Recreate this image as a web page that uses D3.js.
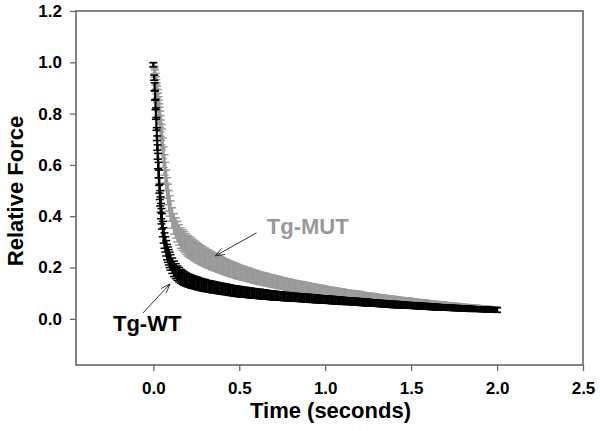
<!DOCTYPE html>
<html>
<head>
<meta charset="utf-8">
<script src="https://cdnjs.cloudflare.com/ajax/libs/d3/7.8.5/d3.min.js"></script>
<style>
  body { margin: 0; background: #fff; }
  svg text { font-family: Arial, "Liberation Sans", sans-serif; font-weight: bold; }
</style>
</head>
<body>
<svg class="chart"></svg>
<script>
const width = 600;
const height = 431;

// sample times (s)
const time = [
  0, 0.005, 0.0075, 0.01, 0.0125, 0.015, 0.0175, 0.02, 0.0225, 0.025,
  0.0275, 0.03, 0.0325, 0.035, 0.0375, 0.04, 0.0425, 0.045, 0.0475, 0.05,
  0.055, 0.06, 0.065, 0.07, 0.075, 0.08, 0.085, 0.09, 0.095, 0.1,
  0.11, 0.12, 0.13, 0.14, 0.15, 0.16, 0.17, 0.18, 0.19, 0.20,
  0.21, 0.22, 0.23, 0.24, 0.25, 0.26, 0.27, 0.28, 0.29, 0.30,
  0.31, 0.32, 0.33, 0.34, 0.35, 0.36, 0.37, 0.38, 0.39, 0.40,
  0.41, 0.42, 0.43, 0.44, 0.45, 0.46, 0.47, 0.48, 0.49, 0.50,
  0.51, 0.52, 0.53, 0.54, 0.55, 0.56, 0.57, 0.58, 0.59, 0.60,
  0.61, 0.62, 0.63, 0.64, 0.65, 0.66, 0.67, 0.68, 0.69, 0.70,
  0.71, 0.72, 0.73, 0.74, 0.75, 0.76, 0.77, 0.78, 0.79, 0.80,
  0.81, 0.82, 0.83, 0.84, 0.85, 0.86, 0.87, 0.88, 0.89, 0.90,
  0.91, 0.92, 0.93, 0.94, 0.95, 0.96, 0.97, 0.98, 0.99, 1.00,
  1.01, 1.02, 1.03, 1.04, 1.05, 1.06, 1.07, 1.08, 1.09, 1.10,
  1.11, 1.12, 1.13, 1.14, 1.15, 1.16, 1.17, 1.18, 1.19, 1.20,
  1.21, 1.22, 1.23, 1.24, 1.25, 1.26, 1.27, 1.28, 1.29, 1.30,
  1.31, 1.32, 1.33, 1.34, 1.35, 1.36, 1.37, 1.38, 1.39, 1.40,
  1.41, 1.42, 1.43, 1.44, 1.45, 1.46, 1.47, 1.48, 1.49, 1.50,
  1.51, 1.52, 1.53, 1.54, 1.55, 1.56, 1.57, 1.58, 1.59, 1.60,
  1.61, 1.62, 1.63, 1.64, 1.65, 1.66, 1.67, 1.68, 1.69, 1.70,
  1.71, 1.72, 1.73, 1.74, 1.75, 1.76, 1.77, 1.78, 1.79, 1.80,
  1.81, 1.82, 1.83, 1.84, 1.85, 1.86, 1.87, 1.88, 1.89, 1.90,
  1.91, 1.92, 1.93, 1.94, 1.95, 1.96, 1.97, 1.98, 1.99, 2.00
];

// Tg-WT relative force (mean)
const wtMean = [
  0.99, 0.94, 0.905, 0.87, 0.835, 0.80, 0.76, 0.72, 0.685, 0.65,
  0.615, 0.58, 0.55, 0.52, 0.495, 0.47, 0.445, 0.42, 0.40, 0.38,
  0.35, 0.325, 0.305, 0.29, 0.275, 0.26, 0.25, 0.24, 0.23, 0.22,
  0.207, 0.195, 0.186, 0.178, 0.172, 0.166, 0.161, 0.157, 0.153, 0.150,
  0.148, 0.145, 0.143, 0.141, 0.139, 0.137, 0.135, 0.133, 0.131, 0.130,
  0.128, 0.127, 0.126, 0.124, 0.123, 0.122, 0.121, 0.119, 0.118, 0.117,
  0.116, 0.115, 0.114, 0.113, 0.111, 0.110, 0.109, 0.108, 0.107, 0.106,
  0.105, 0.104, 0.104, 0.103, 0.102, 0.101, 0.100, 0.100, 0.099, 0.098,
  0.097, 0.097, 0.096, 0.095, 0.095, 0.094, 0.093, 0.092, 0.092, 0.091,
  0.090, 0.090, 0.089, 0.089, 0.088, 0.087, 0.087, 0.086, 0.086, 0.085,
  0.085, 0.084, 0.084, 0.083, 0.083, 0.082, 0.082, 0.081, 0.081, 0.080,
  0.080, 0.079, 0.079, 0.078, 0.078, 0.077, 0.077, 0.076, 0.076, 0.075,
  0.075, 0.074, 0.074, 0.073, 0.073, 0.072, 0.072, 0.071, 0.071, 0.070,
  0.070, 0.069, 0.069, 0.069, 0.068, 0.068, 0.067, 0.067, 0.066, 0.066,
  0.065, 0.065, 0.064, 0.064, 0.063, 0.063, 0.062, 0.062, 0.061, 0.061,
  0.060, 0.060, 0.059, 0.059, 0.058, 0.058, 0.057, 0.057, 0.056, 0.056,
  0.056, 0.055, 0.055, 0.054, 0.054, 0.054, 0.053, 0.053, 0.052, 0.052,
  0.052, 0.051, 0.051, 0.050, 0.050, 0.050, 0.049, 0.049, 0.048, 0.048,
  0.048, 0.047, 0.047, 0.046, 0.046, 0.046, 0.045, 0.045, 0.044, 0.044,
  0.044, 0.043, 0.043, 0.043, 0.042, 0.042, 0.042, 0.041, 0.041, 0.041,
  0.040, 0.040, 0.040, 0.039, 0.039, 0.039, 0.038, 0.038, 0.038, 0.038,
  0.037, 0.037, 0.037, 0.036, 0.036, 0.036, 0.035, 0.035, 0.035, 0.034
];
// Tg-WT error
const wtErr = [
  0.008, 0.01, 0.015, 0.018, 0.02, 0.022, 0.025, 0.025, 0.028, 0.028,
  0.03, 0.03, 0.03, 0.03, 0.03, 0.03, 0.03, 0.03, 0.03, 0.03,
  0.03, 0.03, 0.03, 0.03, 0.03, 0.03, 0.03, 0.03, 0.03, 0.03,
  0.03, 0.03, 0.029, 0.028, 0.028, 0.027, 0.027, 0.026, 0.026, 0.025,
  0.025, 0.025, 0.024, 0.024, 0.024, 0.024, 0.023, 0.023, 0.023, 0.023,
  0.022, 0.022, 0.022, 0.022, 0.022, 0.021, 0.021, 0.021, 0.021, 0.021,
  0.021, 0.021, 0.020, 0.020, 0.020, 0.020, 0.020, 0.020, 0.020, 0.020,
  0.020, 0.019, 0.019, 0.019, 0.019, 0.019, 0.019, 0.018, 0.018, 0.018,
  0.018, 0.018, 0.018, 0.018, 0.017, 0.017, 0.017, 0.017, 0.017, 0.017,
  0.017, 0.016, 0.016, 0.016, 0.016, 0.016, 0.016, 0.016, 0.016, 0.016,
  0.015, 0.015, 0.015, 0.015, 0.015, 0.015, 0.015, 0.015, 0.015, 0.015,
  0.015, 0.015, 0.015, 0.015, 0.015, 0.014, 0.014, 0.014, 0.014, 0.014,
  0.014, 0.014, 0.014, 0.014, 0.014, 0.014, 0.014, 0.014, 0.014, 0.014,
  0.013, 0.013, 0.013, 0.013, 0.013, 0.013, 0.013, 0.013, 0.013, 0.013,
  0.013, 0.013, 0.013, 0.013, 0.013, 0.012, 0.012, 0.012, 0.012, 0.012,
  0.012, 0.012, 0.012, 0.012, 0.012, 0.012, 0.012, 0.012, 0.012, 0.012,
  0.012, 0.012, 0.012, 0.012, 0.012, 0.011, 0.011, 0.011, 0.011, 0.011,
  0.011, 0.011, 0.011, 0.011, 0.011, 0.011, 0.011, 0.011, 0.011, 0.011,
  0.011, 0.011, 0.011, 0.011, 0.011, 0.010, 0.010, 0.010, 0.010, 0.010,
  0.010, 0.010, 0.010, 0.010, 0.010, 0.010, 0.010, 0.010, 0.010, 0.010,
  0.010, 0.010, 0.010, 0.010, 0.010, 0.009, 0.009, 0.009, 0.009, 0.009,
  0.009, 0.009, 0.009, 0.009, 0.009, 0.009, 0.009, 0.009, 0.009, 0.009
];

// Tg-MUT relative force (mean)
const mutMean = [
  0.99, 0.97, 0.96, 0.95, 0.935, 0.92, 0.905, 0.89, 0.875, 0.86,
  0.845, 0.83, 0.815, 0.80, 0.785, 0.77, 0.752, 0.735, 0.718, 0.70,
  0.665, 0.63, 0.60, 0.57, 0.54, 0.51, 0.485, 0.46, 0.44, 0.42,
  0.393, 0.37, 0.354, 0.34, 0.327, 0.315, 0.307, 0.30, 0.292, 0.285,
  0.280, 0.275, 0.270, 0.265, 0.261, 0.256, 0.252, 0.248, 0.244, 0.240,
  0.236, 0.233, 0.230, 0.226, 0.223, 0.220, 0.217, 0.214, 0.211, 0.208,
  0.205, 0.202, 0.199, 0.197, 0.194, 0.192, 0.189, 0.187, 0.184, 0.182,
  0.180, 0.178, 0.176, 0.174, 0.172, 0.170, 0.168, 0.166, 0.164, 0.162,
  0.160, 0.158, 0.157, 0.155, 0.154, 0.152, 0.150, 0.149, 0.147, 0.146,
  0.144, 0.143, 0.141, 0.140, 0.138, 0.137, 0.135, 0.134, 0.132, 0.131,
  0.130, 0.129, 0.127, 0.126, 0.125, 0.124, 0.123, 0.121, 0.120, 0.119,
  0.118, 0.117, 0.116, 0.114, 0.113, 0.112, 0.111, 0.110, 0.108, 0.107,
  0.106, 0.105, 0.104, 0.103, 0.102, 0.101, 0.100, 0.099, 0.098, 0.097,
  0.096, 0.095, 0.094, 0.093, 0.092, 0.092, 0.091, 0.090, 0.089, 0.088,
  0.087, 0.086, 0.085, 0.084, 0.083, 0.083, 0.082, 0.081, 0.080, 0.079,
  0.078, 0.077, 0.077, 0.076, 0.075, 0.074, 0.074, 0.073, 0.072, 0.071,
  0.070, 0.070, 0.069, 0.068, 0.068, 0.067, 0.066, 0.066, 0.065, 0.064,
  0.063, 0.063, 0.062, 0.061, 0.061, 0.060, 0.059, 0.059, 0.058, 0.057,
  0.057, 0.056, 0.056, 0.055, 0.054, 0.054, 0.053, 0.053, 0.052, 0.051,
  0.051, 0.050, 0.050, 0.049, 0.048, 0.048, 0.047, 0.047, 0.046, 0.045,
  0.045, 0.045, 0.044, 0.044, 0.043, 0.043, 0.042, 0.042, 0.041, 0.040,
  0.040, 0.040, 0.039, 0.039, 0.038, 0.038, 0.037, 0.037, 0.036, 0.036
];
// Tg-MUT error
const mutErr = [
  0.01, 0.015, 0.018, 0.02, 0.022, 0.025, 0.028, 0.03, 0.032, 0.034,
  0.035, 0.036, 0.037, 0.038, 0.039, 0.04, 0.04, 0.04, 0.04, 0.04,
  0.04, 0.04, 0.04, 0.04, 0.04, 0.04, 0.04, 0.04, 0.04, 0.04,
  0.04, 0.04, 0.04, 0.04, 0.04, 0.04, 0.04, 0.04, 0.04, 0.04,
  0.04, 0.04, 0.039, 0.039, 0.038, 0.038, 0.037, 0.037, 0.036, 0.036,
  0.035, 0.035, 0.034, 0.034, 0.033, 0.033, 0.032, 0.032, 0.031, 0.031,
  0.030, 0.030, 0.030, 0.029, 0.029, 0.029, 0.028, 0.028, 0.028, 0.027,
  0.027, 0.027, 0.026, 0.026, 0.026, 0.026, 0.025, 0.025, 0.025, 0.025,
  0.024, 0.024, 0.024, 0.024, 0.024, 0.023, 0.023, 0.023, 0.023, 0.023,
  0.023, 0.023, 0.023, 0.022, 0.022, 0.022, 0.022, 0.022, 0.022, 0.022,
  0.021, 0.021, 0.021, 0.021, 0.021, 0.021, 0.021, 0.021, 0.021, 0.021,
  0.020, 0.020, 0.020, 0.020, 0.020, 0.020, 0.020, 0.020, 0.020, 0.020,
  0.019, 0.019, 0.019, 0.019, 0.019, 0.019, 0.019, 0.019, 0.019, 0.019,
  0.018, 0.018, 0.018, 0.018, 0.018, 0.018, 0.018, 0.018, 0.018, 0.018,
  0.017, 0.017, 0.017, 0.017, 0.017, 0.017, 0.017, 0.017, 0.017, 0.017,
  0.016, 0.016, 0.016, 0.016, 0.016, 0.016, 0.016, 0.016, 0.016, 0.016,
  0.015, 0.015, 0.015, 0.015, 0.015, 0.015, 0.015, 0.015, 0.015, 0.015,
  0.014, 0.014, 0.014, 0.014, 0.014, 0.014, 0.014, 0.014, 0.014, 0.014,
  0.013, 0.013, 0.013, 0.013, 0.013, 0.013, 0.013, 0.013, 0.013, 0.013,
  0.012, 0.012, 0.012, 0.012, 0.012, 0.012, 0.012, 0.012, 0.012, 0.012,
  0.011, 0.011, 0.011, 0.011, 0.011, 0.011, 0.011, 0.011, 0.011, 0.011,
  0.010, 0.010, 0.010, 0.010, 0.010, 0.010, 0.010, 0.010, 0.010, 0.010
];

const xTicks = [0, 0.5, 1.0, 1.5, 2.0, 2.5];
const yTicks = [0, 0.2, 0.4, 0.6, 0.8, 1.0, 1.2];

// annotations in data units: label position, arrow start, arrow tip
const labels = [
  { text: 'Tg-MUT', color: '#999', at: [0.66, 0.331], from: [0.60, 0.335], to: [0.36, 0.245] },
  { text: 'Tg-WT', color: '#000', at: [-0.235, -0.047], from: [-0.06, 0.023], to: [0.097, 0.136] }
];

const margin = { top: 11, right: 17, bottom: 66, left: 76 };
const svg = d3.select('.chart').attr('width', width).attr('height', height);

const x = d3.scaleLinear().domain([-0.45, 2.5]).range([margin.left, width - margin.right]);
const y = d3.scaleLinear().domain([-0.18, 1.2]).range([height - margin.bottom, margin.top]);

const frameColor = '#666';

// frame
svg.append('rect')
  .attr('x', x.range()[0]).attr('y', y.range()[1])
  .attr('width', x.range()[1] - x.range()[0])
  .attr('height', y.range()[0] - y.range()[1])
  .attr('fill', 'none').attr('stroke', frameColor).attr('stroke-width', 1.6);

// axes
const xAxis = svg.append('g')
  .attr('transform', `translate(0,${y.range()[0]})`)
  .call(d3.axisBottom(x).tickValues(xTicks).tickFormat(d3.format('.1f')).tickSize(6).tickPadding(11));
const yAxis = svg.append('g')
  .attr('transform', `translate(${x.range()[0]},0)`)
  .call(d3.axisLeft(y).tickValues(yTicks).tickFormat(d3.format('.1f')).tickSize(6).tickPadding(8));

[xAxis, yAxis].forEach(g => {
  g.select('.domain').remove();
  g.selectAll('.tick line').attr('stroke', frameColor).attr('stroke-width', 1.3);
  g.selectAll('.tick text')
    .attr('fill', '#000')
    .style('font-size', '17px')
    .style('font-family', 'Arial, "Liberation Sans", sans-serif')
    .style('font-weight', 'bold');
});

// axis titles
svg.append('text')
  .attr('x', (x.range()[0] + x.range()[1]) / 2 + 1)
  .attr('y', 418)
  .attr('text-anchor', 'middle')
  .style('font-size', '22px')
  .text('Time (seconds)');

svg.append('text')
  .attr('transform', `translate(23,${(y.range()[0] + y.range()[1]) / 2 + 3}) rotate(-90)`)
  .attr('text-anchor', 'middle')
  .style('font-size', '22px')
  .text('Relative Force');

// error bars: stem plus two caps per point
function drawSeries(mean, err, color) {
  const n = Math.min(time.length, mean.length, err.length);
  const pts = d3.range(n).map(i => ({ t: time[i], m: mean[i], e: err[i] }));
  const cap = 4;
  const g = svg.append('g').attr('stroke', color);
  const bars = g.selectAll('g').data(pts).enter().append('g');
  bars.append('line')
    .attr('stroke-width', 2.2)
    .attr('x1', d => x(d.t)).attr('x2', d => x(d.t))
    .attr('y1', d => y(d.m - d.e)).attr('y2', d => y(d.m + d.e));
  bars.append('line')
    .attr('stroke-width', 1.5)
    .attr('x1', d => x(d.t) - cap).attr('x2', d => x(d.t) + cap)
    .attr('y1', d => y(d.m + d.e)).attr('y2', d => y(d.m + d.e));
  bars.append('line')
    .attr('stroke-width', 1.5)
    .attr('x1', d => x(d.t) - cap).attr('x2', d => x(d.t) + cap)
    .attr('y1', d => y(d.m - d.e)).attr('y2', d => y(d.m - d.e));
}

drawSeries(mutMean, mutErr, '#9a9a9a');
drawSeries(wtMean, wtErr, '#000');

// labels with arrows
labels.forEach(l => {
  svg.append('text')
    .attr('x', x(l.at[0])).attr('y', y(l.at[1]))
    .attr('fill', l.color)
    .style('font-size', '22px')
    .text(l.text);

  const x1 = x(l.from[0]), y1 = y(l.from[1]);
  const x2 = x(l.to[0]), y2 = y(l.to[1]);
  const ang = Math.atan2(y2 - y1, x2 - x1);
  const head = 10, spread = 0.35;
  const g = svg.append('g').attr('stroke', '#333').attr('stroke-width', 1).attr('fill', 'none');
  g.append('line').attr('x1', x1).attr('y1', y1).attr('x2', x2).attr('y2', y2);
  g.append('path').attr('d',
    `M${x2 - head * Math.cos(ang - spread)},${y2 - head * Math.sin(ang - spread)}` +
    `L${x2},${y2}` +
    `L${x2 - head * Math.cos(ang + spread)},${y2 - head * Math.sin(ang + spread)}`);
});
</script>
</body>
</html>
